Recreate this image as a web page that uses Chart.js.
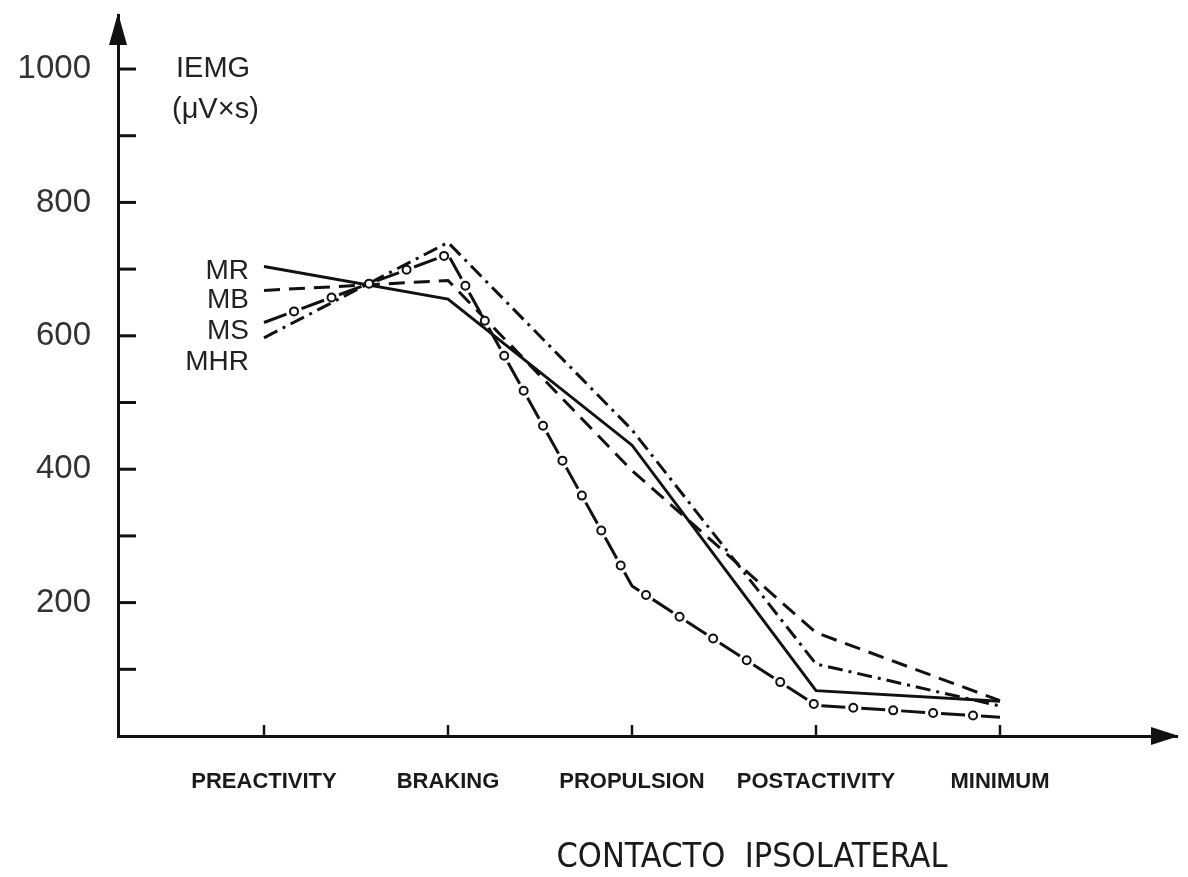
<!DOCTYPE html>
<html>
<head>
<meta charset="utf-8">
<script src="https://cdn.jsdelivr.net/npm/chart.js@4.4.1/dist/chart.umd.min.js"></script>
<style>
  html, body { margin: 0; padding: 0; background: #ffffff; }
  #wrap { position: relative; width: 1188px; height: 877px; }
</style>
</head>
<body>
<div id="wrap"><canvas id="c" width="1188" height="877"></canvas></div>
<script>
// ---- data ----
const categories = ['PREACTIVITY', 'BRAKING', 'PROPULSION', 'POSTACTIVITY', 'MINIMUM'];
const MR  = [704, 655, 436, 68, 52];
const MB  = [668, 683, 398, 155, 53];
const MS  = [620, 722, 225, 46, 28];
const MHR = [597, 740, 459, 108, 45];
const seriesNames = ['MR', 'MB', 'MS', 'MHR'];
const yTickValues = [0, 100, 200, 300, 400, 500, 600, 700, 800, 900, 1000];
const yTickLabels = [200, 400, 600, 800, 1000];
const yLabelLines = ['IEMG', '(\u03bcV\u00d7s)'];
const xTitle = 'CONTACTO  IPSOLATERAL';

const toXY = arr => arr.map((v, i) => ({ x: i, y: v }));
const INK = '#111111';

// circles drawn along the MS line, in the gaps of its dash pattern
const circleDash = [24, 16];
const decoPlugin = {
  id: 'deco',
  afterDatasetsDraw(chart) {
    const ctx = chart.ctx;
    const meta = chart.getDatasetMeta(2);
    const pts = meta.data;
    const P = circleDash[0] + circleDash[1];
    let next = circleDash[0] + circleDash[1] / 2;
    let acc = 0;
    ctx.save();
    ctx.strokeStyle = INK;
    ctx.lineWidth = 2;
    ctx.fillStyle = '#ffffff';
    for (let i = 1; i < pts.length; i++) {
      const a = pts[i - 1], b = pts[i];
      const len = Math.hypot(b.x - a.x, b.y - a.y);
      while (next <= acc + len) {
        const t = (next - acc) / len;
        const cx = a.x + (b.x - a.x) * t, cy = a.y + (b.y - a.y) * t;
        ctx.beginPath();
        ctx.arc(cx, cy, 4, 0, Math.PI * 2);
        ctx.fill();
        ctx.stroke();
        next += P;
      }
      acc += len;
    }
    ctx.restore();
  },
  afterDraw(chart) {
    const ctx = chart.ctx;
    const xs = chart.scales.x, ys = chart.scales.y;
    const ca = chart.chartArea;
    const x0 = ca.left, y0 = ca.bottom;
    ctx.save();
    ctx.strokeStyle = INK;
    ctx.fillStyle = INK;
    ctx.lineWidth = 3;
    yTickValues.forEach(v => {
      if (v === 0) return;
      const y = ys.getPixelForValue(v);
      ctx.beginPath();
      ctx.moveTo(x0, y);
      ctx.lineTo(x0 + 18, y);
      ctx.stroke();
    });
    ctx.lineWidth = 2.5;
    categories.forEach((c, i) => {
      const x = xs.getPixelForValue(i);
      ctx.beginPath();
      ctx.moveTo(x, y0);
      ctx.lineTo(x, y0 - 11);
      ctx.stroke();
    });
    // arrow heads
    ctx.beginPath();
    ctx.moveTo(x0, ca.top - 2);
    ctx.lineTo(x0 - 9, ca.top + 30);
    ctx.lineTo(x0 + 9, ca.top + 30);
    ctx.closePath();
    ctx.fill();
    ctx.beginPath();
    ctx.moveTo(ca.right + 2, y0);
    ctx.lineTo(ca.right - 26, y0 - 9);
    ctx.lineTo(ca.right - 26, y0 + 9);
    ctx.closePath();
    ctx.fill();
    // y unit label
    ctx.fillStyle = '#222';
    ctx.font = '29px "Liberation Sans", Arial, sans-serif';
    ctx.textAlign = 'left';
    ctx.textBaseline = 'middle';
    ctx.fillText(yLabelLines[0], 176, 69);
    ctx.fillText(yLabelLines[1], 172, 110);
    // series labels at line starts
    ctx.font = '28px "Liberation Sans", Arial, sans-serif';
    ctx.textAlign = 'right';
    const labelY = [271, 300, 331, 362];
    seriesNames.forEach((n, i) => ctx.fillText(n, 249, labelY[i]));
    // x title
    ctx.font = '34px "Liberation Sans Narrow", "DejaVu Sans Condensed", sans-serif';
    ctx.textAlign = 'center';
    ctx.fillStyle = '#1a1a1a';
    ctx.fillText(xTitle, 752, 858);
    ctx.restore();
  }
};

const common = { borderColor: INK, borderWidth: 3, pointRadius: 0, tension: 0, fill: false };

new Chart(document.getElementById('c'), {
  type: 'line',
  data: {
    datasets: [
      Object.assign({ label: 'MR',  data: toXY(MR) }, common),
      Object.assign({ label: 'MB',  data: toXY(MB),  borderDash: [16, 9] }, common),
      Object.assign({ label: 'MS',  data: toXY(MS),  borderDash: circleDash }, common),
      Object.assign({ label: 'MHR', data: toXY(MHR), borderDash: [15, 6, 3, 6] }, common)
    ]
  },
  options: {
    responsive: false,
    animation: false,
    layout: { padding: { top: 15, right: 11, left: 0, bottom: 0 } },
    plugins: { legend: { display: false }, tooltip: { enabled: false }, title: { display: false } },
    scales: {
      x: {
        type: 'linear',
        min: -0.7935,
        max: 4.962,
        afterBuildTicks: s => { s.ticks = categories.map((c, i) => ({ value: i })); },
        afterFit: s => { s.height = 141; s.paddingLeft = 0; s.paddingRight = 0; },
        grid: { display: false, drawTicks: false },
        border: { display: true, color: INK, width: 3 },
        ticks: {
          autoSkip: false,
          maxRotation: 0,
          padding: 33,
          color: '#1a1a1a',
          font: { family: '"Liberation Sans", Arial, sans-serif', size: 22, weight: 'bold' },
          callback: v => categories[v] !== undefined ? categories[v] : ''
        }
      },
      y: {
        type: 'linear',
        min: 0,
        max: 1081,
        afterBuildTicks: s => { s.ticks = yTickValues.map(v => ({ value: v })); },
        afterFit: s => { s.width = 118; s.paddingTop = 0; s.paddingBottom = 0; },
        grid: { display: false, drawTicks: false },
        border: { display: true, color: INK, width: 3 },
        ticks: {
          padding: 27,
          color: '#333',
          font: { family: '"Liberation Sans", Arial, sans-serif', size: 33 },
          callback: v => yTickLabels.includes(v) ? String(v) : ''
        }
      }
    }
  },
  plugins: [decoPlugin]
});
</script>
</body>
</html>
